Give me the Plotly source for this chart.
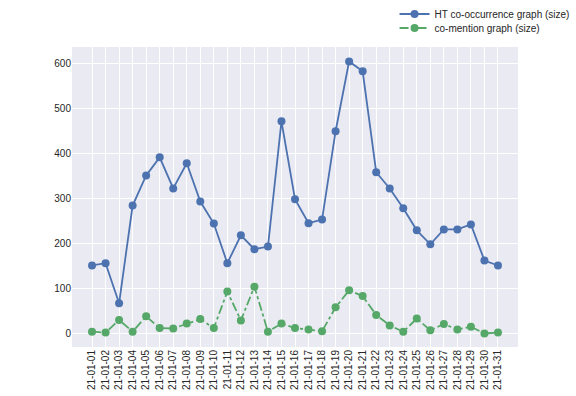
import plotly.graph_objects as go

dates = ["21-01-%02d" % d for d in range(1, 32)]

ht_size = [151, 156, 67, 284, 351, 391, 322, 378, 293, 244, 156, 218, 187, 193, 471, 298,
           245, 253, 449, 604, 582, 358, 322, 278, 229, 198, 231, 231, 242, 162, 151]
cm_size = [4, 2, 30, 4, 38, 12, 11, 22, 32, 12, 93, 29, 104, 4, 22, 12,
           9, 5, 58, 96, 83, 41, 18, 4, 33, 7, 21, 9, 15, 0, 2]

fig = go.Figure()
fig.add_trace(go.Scatter(
    x=dates, y=ht_size, mode="lines+markers", name="HT co-occurrence graph (size)",
    line=dict(color="#4C72B0", width=1.8),
    marker=dict(color="#4C72B0", size=8),
    legend="legend",
))
fig.add_trace(go.Scatter(
    x=dates, y=cm_size, mode="lines+markers", name="co-mention graph (size)",
    line=dict(color="#55A868", width=1.8, dash="dashdot"),
    marker=dict(color="#55A868", size=8),
    legend="legend2",
))

leg = dict(xref="container", yref="container", x=0.685, xanchor="left",
           yanchor="middle", bgcolor="rgba(0,0,0,0)", font=dict(size=10),
           itemwidth=30)

fig.update_layout(
    width=576, height=396,
    margin=dict(l=72, r=58, t=47, b=49, autoexpand=False),
    paper_bgcolor="white",
    plot_bgcolor="#EAEAF2",
    font=dict(family="Liberation Sans, Arial, sans-serif", size=10, color="#262626"),
    showlegend=True,
    legend=dict(leg, y=1 - 14 / 396),
    legend2=dict(leg, y=1 - 28 / 396),
)
fig.update_xaxes(
    type="category", range=[-1.48, 31.48], tickangle=-90,
    tickmode="array", tickvals=dates, ticktext=dates,
    showgrid=True, gridcolor="white", gridwidth=1, zeroline=False,
    ticks="", showline=False,
)
fig.update_yaxes(
    range=[-30, 636], tickvals=[0, 100, 200, 300, 400, 500, 600],
    showgrid=True, gridcolor="white", gridwidth=1, zeroline=False,
    ticks="", showline=False,
)

fig.write_html("out.html", config={"displayModeBar": False},
               post_script="document.body.style.margin='0';")
